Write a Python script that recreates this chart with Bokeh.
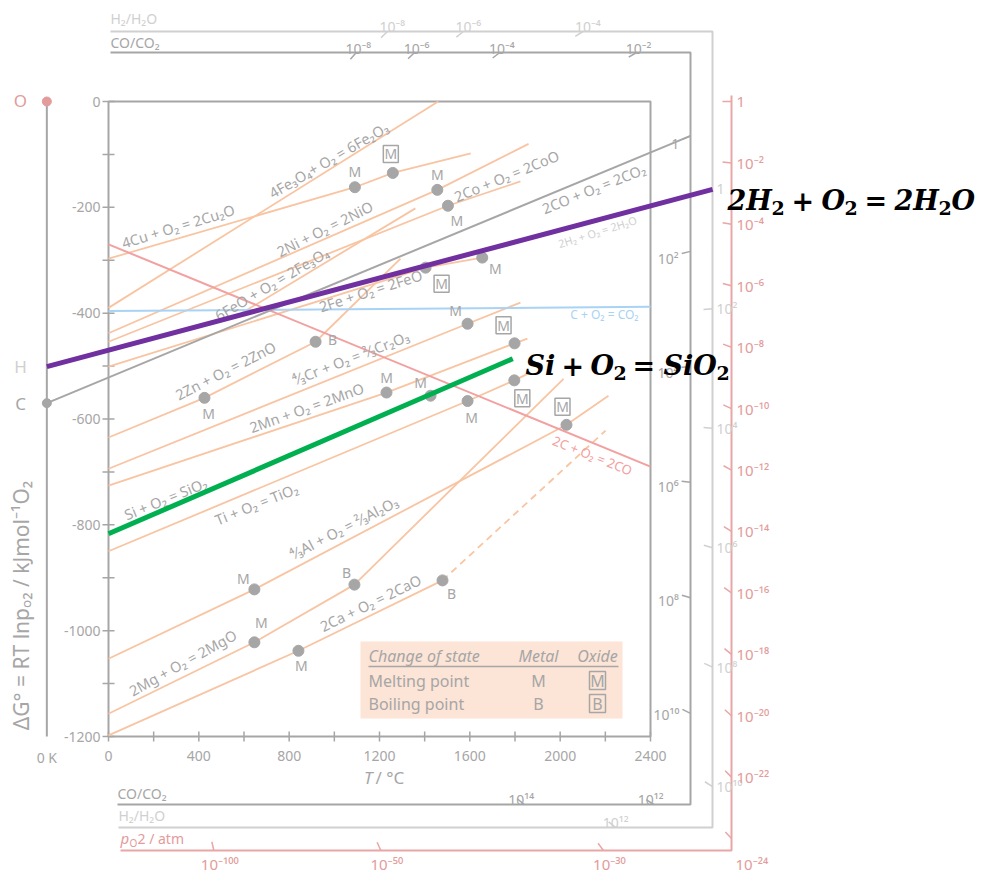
import math
from bokeh.plotting import figure
from bokeh.models import Range1d
from bokeh.embed import file_html
from bokeh.resources import INLINE
from bokeh.core.properties import value

# ---------------- data (T in °C, ΔG° in kJ per mol O2) ----------------
T_ABS_ZERO = -273.0
R_GAS = 8.314e-3

x_tick_values = [0, 400, 800, 1200, 1600, 2000, 2400]
x_minor_values = [0, 200, 400, 600, 800, 1000, 1200, 1400, 1600, 1800, 2000, 2200, 2400]
y_tick_values = [0, -200, -400, -600, -800, -1000, -1200]
y_minor_values = [0, -100, -200, -300, -400, -500, -600, -700, -800, -900, -1000, -1100, -1200]

cu_T = [0, 1091, 1259, 1604];        cu_G = [-297, -162, -135, -98]
fe2o3_T = [0, 1460];                 fe2o3_G = [-390, 0]
ni_T = [0, 1456, 1860];              ni_G = [-438, -167, -80]
co_T = [0, 1503, 1824];              co_G = [-454, -197, -151]
feo_T = [570, 1359];                 feo_G = [-405, -202]
fe_T = [0, 1404, 1655];              fe_G = [-501, -314, -295]
zn_T = [0, 425, 917, 1293];          zn_G = [-635, -560, -454, -297]
cr_T = [0, 1590, 1824];              cr_G = [-694, -420, -380]
mn_T = [0, 1231, 1798, 1855];        mn_G = [-726, -550, -457, -448]
ti_T = [0, 1590, 1797, 1869];        ti_G = [-850, -566, -527, -512]
al_T = [0, 646, 2028, 2214];         al_G = [-1053, -922, -611, -556]
mg_T = [0, 646, 1089, 2015];         mg_G = [-1157, -1022, -913, -524]
ca_T = [0, 841, 1479];               ca_G = [-1198, -1038, -905]
ca_gas_T = [1479, 2201];             ca_gas_G = [-905, -622]
si_T = [0, 1790];                    si_G = [-817, -486]
h2_T = [-273, 2675];                 h2_G = [-501, -166]
co2_T = [-273, 2577];                co2_G = [-570, -65]
c_co_T = [0, 2400];                  c_co_G = [-270, -690]
c_co2_T = [0, 2400];                 c_co2_G = [-396, -388]

# phase-change points
pt_T = [1091, 1259, 1456, 1503, 1404, 1655, 425, 917, 1590, 1798, 1231, 1426, 1590, 1797, 2028, 646, 646, 1089, 841, 1479]
pt_G = [-162, -135, -167, -197, -314, -295, -560, -454, -420, -457, -550, -556, -566, -527, -611, -922, -1022, -913, -1038, -905]
pt_mark = ["M", "M", "M", "M", "M", "M", "M", "B", "M", "M", "M", "M", "M", "M", "M", "M", "M", "B", "M", "B"]
pt_oxide = [False, True, False, False, True, False, False, False, False, True, False, False, False, True, True, False, False, False, False, False]

# nomograph scale exponents
co_top_exp = [-8, -6, -4, -2]
co_right_exp = [0, 2, 4, 6, 8, 10]
co_bottom_exp = [14, 12]
h2_top_exp = [-8, -6, -4]
h2_right_exp = [0, 2, 4, 6, 8, 10]
h2_bottom_exp = [12]
o2_right_exp = [0, -2, -4, -6, -8, -10, -12, -14, -16, -18, -20, -22, -24]
o2_bottom_exp = [-100, -50, -30]

rxn_text = ["4Cu + O₂ = 2Cu₂O", "4Fe₃O₄+ O₂ = 6Fe₂O₃", "2Ni + O₂ = 2NiO", "6FeO + O₂ = 2Fe₃O₄",
            "2Fe + O₂ = 2FeO", "2Co + O₂ = 2CoO", "2Zn + O₂ = 2ZnO", "⁴⁄₃Cr + O₂ = ²⁄₃Cr₂O₃",
            "2Mn + O₂ = 2MnO", "Si + O₂ = SiO₂", "Ti + O₂ = TiO₂", "⁴⁄₃Al + O₂ = ²⁄₃Al₂O₃",
            "2Mg + O₂ = 2MgO", "2Ca + O₂ = 2CaO", "2CO + O₂ = 2CO₂"]

# ---------------- layout / style ----------------
W, H = 988, 872
SX = 542.0 / 2400.0     # px per °C
SY = 635.0 / 1200.0     # px per kJ
X0 = -108.0 / SX
YT = 101.0 / SY

FONT = value("Noto Sans")
GRAY = "#A6A6A6"
LGRAY = "#D0D0D0"
ORANGE = "#F8C4A2"
REDL = "#E8A6A6"
REDT = "#E39B9B"

p = figure(width=W, height=H, x_range=Range1d(X0, X0 + W / SX), y_range=Range1d(YT - H / SY, YT),
           output_backend="svg", toolbar_location=None, x_axis_type=None, y_axis_type=None,
           min_border=0)
p.outline_line_color = None
p.grid.visible = False

def sx(px):   # screen px offset -> data T
    return px / SX

def sy(py):
    return py / SY

def ax(px):   # absolute screen x -> T (annotation placement)
    return X0 + px / SX

def ay(py):
    return YT - py / SY

SUP = str.maketrans("-0123456789", "⁻⁰¹²³⁴⁵⁶⁷⁸⁹")

def pw(e):
    return "1" if e == 0 else "10" + str(e).translate(SUP)

def txt(x, y, s, size=13, color=GRAY, align="center", baseline="middle", angle=0.0, style="normal", font=FONT):
    p.text(x=[x] if not isinstance(x, list) else x, y=[y] if not isinstance(y, list) else y,
           text=[s] if not isinstance(s, list) else s, angle=angle,
           text_font=font, text_font_size=f"{size}px", text_color=color, text_align=align,
           text_baseline=baseline, text_font_style=style)

# legend box
p.quad(left=[ax(360)], right=[ax(622)], top=[ay(641)], bottom=[ay(718)], fill_color="#FCE4D6", line_color=None)

# 0 K line and main frame
p.line([T_ABS_ZERO, T_ABS_ZERO], [0, -1200], line_color=GRAY, line_width=2)
p.line([0, 2400, 2400, 0, 0], [0, 0, -1200, -1200, 0], line_color=GRAY, line_width=2)
p.segment(x0=x_minor_values, x1=x_minor_values, y0=[-1200 - sy(5)] * len(x_minor_values),
          y1=[-1200 + sy(5)] * len(x_minor_values), line_color=GRAY, line_width=1.5)
p.segment(x0=[-sx(6)] * len(y_minor_values), x1=[sx(6)] * len(y_minor_values), y0=y_minor_values,
          y1=y_minor_values, line_color=GRAY, line_width=1.5)
txt(x_tick_values, [ay(755)] * len(x_tick_values), [str(v) for v in x_tick_values], size=14)
txt([-sx(8)] * len(y_tick_values), y_tick_values, [str(v) for v in y_tick_values], size=14, align="right")
txt(ax(372), ay(777), "T", size=17, align="right", style="italic")
txt(ax(375), ay(777), "/ °C", size=17, align="left")
txt(T_ABS_ZERO, ay(757), "0 K", size=14)
txt(ax(20), ay(605), "ΔG° = RT lnpₒ₂ / kJmol⁻¹O₂", size=21, angle=math.pi / 2)
txt(ax(20), ay(100), "O", size=17, color=REDT)
txt(ax(20), ay(366), "H", size=17, color=LGRAY)
txt(ax(20), ay(403), "C", size=17, color=GRAY)

# ---------------- nomograph scales ----------------
CO_TOP, CO_RIGHT, CO_BOT = ay(52), ax(690), ay(804)
H2_TOP, H2_RIGHT, H2_BOT = ay(31), ax(712), ay(827)
O2_RIGHT, O2_BOT = ax(731), ay(850)

p.line([ax(110), CO_RIGHT, CO_RIGHT, ax(117)], [CO_TOP, CO_TOP, CO_BOT, CO_BOT], line_color=GRAY, line_width=2)
p.line([ax(110), H2_RIGHT, H2_RIGHT, ax(118)], [H2_TOP, H2_TOP, H2_BOT, H2_BOT], line_color=LGRAY, line_width=2)
p.line([O2_RIGHT, O2_RIGHT, ax(120)], [ay(95), O2_BOT, O2_BOT], line_color=REDL, line_width=2)

def pivot(Ts, Gs):
    s = (Gs[-1] - Gs[0]) / (Ts[-1] - Ts[0])
    return Gs[0] + s * (T_ABS_ZERO - Ts[0]), s

def toward(T, G, Gp, L):
    dx = (T_ABS_ZERO - T) * SX
    dy = (Gp - G) * SY
    d = math.hypot(dx, dy)
    return T + L * dx / d / SX, G + L * dy / d / SY

def scale(G0, base, nu, exps, side, level):
    pts = []
    for e in exps:
        s = base - nu * R_GAS * math.log(10) * e
        if side == "v":
            T = level; G = G0 + s * (level - T_ABS_ZERO)
        else:
            G = level; T = T_ABS_ZERO + (level - G0) / s
        pts.append((T, G))
    return pts

def draw_ticks(pts, G0, color, L=9, width=1.5):
    ends = [toward(T, G, G0, L) for T, G in pts]
    p.segment(x0=[a[0] for a in pts], y0=[a[1] for a in pts], x1=[b[0] for b in ends],
              y1=[b[1] for b in ends], line_color=color, line_width=width)
    return ends

G_co, s_co = pivot(co2_T, co2_G)
G_h2, s_h2 = pivot(h2_T, h2_G)

# CO/CO2
pts = scale(G_co, s_co, 2, co_top_exp, "h", CO_TOP)
draw_ticks(pts, G_co, GRAY)
txt([t + sx(2) for t, g in pts], [CO_TOP + sy(4)] * len(pts), [pw(e) for e in co_top_exp], size=14,
    baseline="alphabetic")
pts = scale(G_co, s_co, 2, co_right_exp, "v", CO_RIGHT)
ends = draw_ticks(pts, G_co, GRAY)
txt([t - sx(3) for t, g in ends], [g - sy(5) for t, g in ends], [pw(e) for e in co_right_exp], size=14,
    align="right")
pts = scale(G_co, s_co, 2, co_bottom_exp, "h", CO_BOT)
draw_ticks(pts, G_co, GRAY)
txt([t - sx(3) for t, g in pts], [CO_BOT + sy(5)] * len(pts), [pw(e) for e in co_bottom_exp], size=14,
    baseline="alphabetic")
txt(ax(110), ay(42), "CO/CO₂", size=14, align="left")
txt(ax(117), ay(793), "CO/CO₂", size=14, align="left")

# H2/H2O
pts = scale(G_h2, s_h2, 2, h2_top_exp, "h", H2_TOP)
draw_ticks(pts, G_h2, LGRAY)
txt([t + sx(5) for t, g in pts], [H2_TOP + sy(5)] * len(pts), [pw(e) for e in h2_top_exp], size=14,
    color=LGRAY, baseline="alphabetic")
pts = scale(G_h2, s_h2, 2, h2_right_exp, "v", H2_RIGHT)
draw_ticks(pts, G_h2, LGRAY)
txt([t + sx(4) for t, g in pts], [g for t, g in pts], [pw(e) for e in h2_right_exp], size=14,
    color=LGRAY, align="left")
pts = scale(G_h2, s_h2, 2, h2_bottom_exp, "h", H2_BOT)
draw_ticks(pts, G_h2, LGRAY)
txt([t for t, g in pts], [H2_BOT + sy(5)] * len(pts), [pw(e) for e in h2_bottom_exp], size=14,
    color=LGRAY, baseline="alphabetic")
txt(ax(110), ay(18), "H₂/H₂O", size=14, align="left", color=LGRAY)
txt(ax(118), ay(815), "H₂/H₂O", size=14, align="left", color=LGRAY)

# p_O2
pts = scale(0.0, 0.0, -1, o2_right_exp, "v", O2_RIGHT)
draw_ticks(pts, 0.0, REDL)
txt([t + sx(5) for t, g in pts[:-1]], [g for t, g in pts[:-1]], [pw(e) for e in o2_right_exp[:-1]],
    size=15, color=REDT, align="left")
txt(pts[-1][0] + sx(4), O2_BOT - sy(3), pw(o2_right_exp[-1]), size=15, color=REDT, align="left",
    baseline="top")
pts = scale(0.0, 0.0, -1, o2_bottom_exp, "h", O2_BOT)
draw_ticks(pts, 0.0, REDL)
txt([t + sx(6) for t, g in pts], [O2_BOT - sy(3)] * len(pts), [pw(e) for e in o2_bottom_exp], size=15,
    color=REDT, baseline="top")
txt(ax(120), ay(837), "p", size=15, color=REDT, align="left", style="italic")
txt(ax(129), ay(842), "O", size=10, color=REDT, align="left")
txt(ax(137), ay(838), "2  / atm", size=14, color=REDT, align="left")

# ---------------- Ellingham lines ----------------
solid_T = [cu_T, fe2o3_T, ni_T, co_T, feo_T, fe_T, zn_T, cr_T, mn_T, ti_T, al_T, mg_T, ca_T]
solid_G = [cu_G, fe2o3_G, ni_G, co_G, feo_G, fe_G, zn_G, cr_G, mn_G, ti_G, al_G, mg_G, ca_G]
p.multi_line(xs=solid_T, ys=solid_G, line_color=ORANGE, line_width=1.8)
p.line(ca_gas_T, ca_gas_G, line_color=ORANGE, line_width=1.8, line_dash="7 5")
p.line(c_co2_T, c_co2_G, line_color="#A9D3F5", line_width=2)
p.line(c_co_T, c_co_G, line_color="#F2A0A0", line_width=2)
p.line(co2_T, co2_G, line_color=GRAY, line_width=2)
p.scatter([T_ABS_ZERO], [G_co], size=9, color=GRAY)
p.scatter([T_ABS_ZERO], [0], size=9, color=REDT)

# phase-change markers
p.scatter(pt_T, pt_G, size=11, color=GRAY)
pt_dx = [0, -2, 0, 9, 16, 13, 4, 17, -12, -11, 0, -10, 4, 8, -4, -11, 7, -8, 3, 9]
pt_dy = [-16, -19, -15, 15, 16, 11, 16, -2, -13, -18, -15, -13, 16, 18, -18, -11, -20, -12, 15, 13]
lab_T = [t + sx(dx) for t, dx in zip(pt_T, pt_dx)]
lab_G = [g - sy(dy) for g, dy in zip(pt_G, pt_dy)]
txt(lab_T, lab_G, pt_mark, size=14)
box_T = [t for t, o in zip(lab_T, pt_oxide) if o]
box_G = [g for g, o in zip(lab_G, pt_oxide) if o]
p.rect(box_T, box_G, width=15, height=17, width_units="screen", height_units="screen",
       fill_color=None, line_color=GRAY, line_width=1.5)

# reaction labels
rxn_T = [308, 974, 957, 722, 1160, 1762, 518, 1072, 877, 252, 655, 1041, 328, 1160, 2148]
rxn_G = [-235, -110, -240, -344, -357, -140, -508, -484, -578, -750, -760, -805, -1060, -947, -164]
rxn_ang = [16.9, 30.2, 26.6, 30.5, 17.8, 22.4, 27.0, 21.3, 19.7, 22.3, 22.0, 27.2, 28.9, 26.0, 21.9]
txt(rxn_T, rxn_G, rxn_text, size=14.5, angle=[math.radians(a) for a in rxn_ang])
txt(2165, -246, "2H₂ + O₂ = 2H₂O", size=11, color=LGRAY, angle=math.radians(17.5))
txt(2196, -402, "C + O₂ = CO₂", size=12, color="#A9D3F5")
txt(2143, -669, "2C + O₂ = 2CO", size=13, color="#F2A0A0", angle=math.radians(-21.8))

# legend content
txt(ax(368), ay(655), "Change of state", size=16, align="left", style="italic")
txt(ax(538), ay(655), "Metal", size=16, style="italic")
txt(ax(597), ay(655), "Oxide", size=16, style="italic")
p.line([ax(368), ax(618)], [ay(666), ay(666)], line_color=GRAY, line_width=1.5)
txt([ax(368), ax(368)], [ay(680), ay(703)], ["Melting point", "Boiling point"], size=16, align="left")
txt([ax(538), ax(538), ax(597), ax(597)], [ay(680), ay(703), ay(680), ay(703)], ["M", "B", "M", "B"], size=16)
p.rect([ax(597), ax(597)], [ay(680), ay(703)], width=16, height=18, width_units="screen", height_units="screen",
       fill_color=None, line_color=GRAY, line_width=1.5)

# highlighted reactions
p.line(h2_T, h2_G, line_color="#7030A0", line_width=5)
p.line(si_T, si_G, line_color="#00B050", line_width=5)

SERIF = value("DejaVu Serif")
# (text, left px, baseline px, size, style)
eq_pieces = [
    ("2H", 727, 200, 27, "bold italic"), ("2", 771, 207, 19, "bold"),
    ("+", 791, 200, 27, "bold"), ("O", 821, 200, 27, "bold italic"), ("2", 844, 207, 19, "bold"),
    ("=", 864, 200, 27, "bold"), ("2H", 894, 200, 27, "bold italic"),
    ("2", 938, 207, 19, "bold"), ("O", 951, 200, 27, "bold italic"),
    ("Si", 525, 365, 27, "bold italic"), ("+", 561, 365, 27, "bold"),
    ("O", 590, 365, 27, "bold italic"), ("2", 613, 372, 19, "bold"), ("=", 632, 365, 27, "bold"),
    ("SiO", 663, 365, 27, "bold italic"), ("2", 716, 372, 19, "bold"),
]
for s, lx, by, sz, st in eq_pieces:
    txt(ax(lx), ay(by), s, size=sz, color="black", align="left", baseline="alphabetic", style=st, font=SERIF)

open("out.html", "w").write(file_html(p, INLINE))
